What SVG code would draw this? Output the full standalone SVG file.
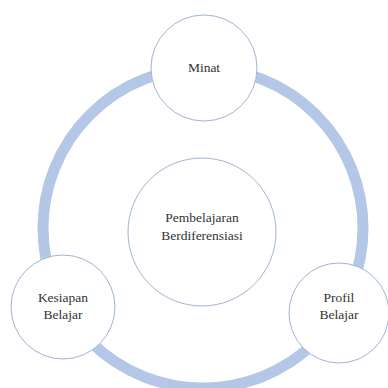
<svg xmlns="http://www.w3.org/2000/svg" width="388" height="388" viewBox="0 0 388 388">
<style>
.node{fill:#ffffff;stroke:#9fb4d6;stroke-width:1}
.lbl{font-family:'Liberation Serif','Times New Roman',serif;font-size:13.5px;fill:#333333;text-anchor:middle}
</style>
<rect width="388" height="388" fill="#ffffff"/>
<g id="connectors">
<circle cx="203" cy="228" r="160" fill="none" stroke="#b4c7e7" stroke-width="11"/>
</g>
<g id="center">
<circle class="node" cx="202" cy="232" r="74"/>
<text class="lbl" x="202" y="222">Pembelajaran</text>
<text class="lbl" x="202" y="240">Berdiferensiasi</text>
</g>
<g id="minat">
<circle class="node" cx="204" cy="68" r="53"/>
<text class="lbl" x="204" y="72">Minat</text>
</g>
<g id="kesiapan">
<circle class="node" cx="63" cy="307" r="52"/>
<text class="lbl" x="63" y="302">Kesiapan</text>
<text class="lbl" x="63" y="319">Belajar</text>
</g>
<g id="profil">
<circle class="node" cx="339" cy="313" r="50"/>
<text class="lbl" x="339" y="302">Profil</text>
<text class="lbl" x="339" y="319">Belajar</text>
</g>
</svg>
